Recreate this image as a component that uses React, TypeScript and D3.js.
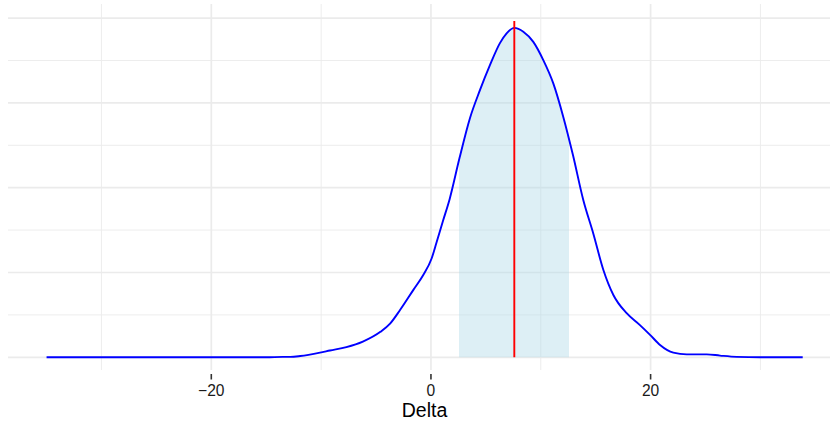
import React from "react";
import * as d3 from "d3";

// Kernel density estimate of Delta (x) and density (y)
const deltaX = [
  -35.0, -30, -25, -20, -15, -13.5, -12.8, -11.9, -10.1, -9.2, -7.7, -6.2, -4.6, -3.7, -2.8,
  -1.6, -0.7, 0.06, 0.5, 1.1, 1.7, 2.6, 3.55, 4.46, 5.37, 6.28, 6.89, 7.59, 8.41, 9.32,
  10.23, 11.14, 12.05, 12.93, 13.87, 14.78, 15.7, 16.61, 17.82, 19.03, 19.95, 20.86,
  22.07, 23.29, 25.11, 26.32, 27.84, 30, 33.85,
];
const densityY = [
  0, 0, 0, 0, 0, 0.0001, 0.0001, 0.0003, 0.0011, 0.0016, 0.0024, 0.0037, 0.006, 0.008, 0.0112,
  0.0159, 0.0194, 0.0233, 0.027, 0.0322, 0.0373, 0.047, 0.0564, 0.063, 0.0689, 0.0741, 0.0764,
  0.0777, 0.0768, 0.0744, 0.0701, 0.0646, 0.0567, 0.0477, 0.0371, 0.0292, 0.0206, 0.0147,
  0.0104, 0.0076, 0.0053, 0.0029, 0.0011, 0.0007, 0.0007, 0.0004, 0.0001, 0, 0,
];

// Shaded interval and the marked point estimate
const intervalLow = 2.55;
const intervalHigh = 12.57;
const estimate = 7.59;
const estimateTop = 0.0793;

const xMajor = [-20, 0, 20];
const xMinor = [-30, -10, 10, 30];
const yMajor = [0, 0.02, 0.04, 0.06, 0.08];
const yMinor = [0.01, 0.03, 0.05, 0.07];
const xTickLabels = ["\u221220", "0", "20"];
const xTitle = "Delta";

const W = 830;
const H = 421;
// panel extends slightly past the right edge of the svg
const panel = { left: 8, right: 841, top: 4, bottom: 370 };

export default function App() {
  const x = d3.scaleLinear().domain([-20, 20]).range([211.3, 650.6]);
  const y = d3.scaleLinear().domain([0, 0.08]).range([357.3, 18.1]);

  const pts: [number, number][] = deltaX.map((d, i) => [d, densityY[i]]);

  const line = d3
    .line<[number, number]>()
    .x((d) => x(d[0]))
    .y((d) => y(d[1]))
    .curve(d3.curveMonotoneX);

  const area = d3
    .area<[number, number]>()
    .x((d) => x(d[0]))
    .y0(y(0))
    .y1((d) => y(d[1]))
    .curve(d3.curveMonotoneX);

  const font = "'Liberation Sans', Arial, Helvetica, sans-serif";

  return (
    <svg
      width={W}
      height={H}
      style={{ position: "absolute", left: 0, top: 0, background: "#fff" }}
    >
      <defs>
        <clipPath id="interval-clip">
          <rect
            x={x(intervalLow)}
            y={panel.top}
            width={x(intervalHigh) - x(intervalLow)}
            height={panel.bottom - panel.top}
          />
        </clipPath>
      </defs>

      {/* minor grid */}
      {yMinor.map((v) => (
        <line
          key={"ym" + v}
          x1={panel.left}
          x2={panel.right}
          y1={y(v)}
          y2={y(v)}
          stroke="#ebebeb"
          strokeWidth={0.9}
        />
      ))}
      {xMinor.map((v) => (
        <line
          key={"xm" + v}
          x1={x(v)}
          x2={x(v)}
          y1={panel.top}
          y2={panel.bottom}
          stroke="#ebebeb"
          strokeWidth={0.9}
        />
      ))}
      {/* major grid */}
      {yMajor.map((v) => (
        <line
          key={"yM" + v}
          x1={panel.left}
          x2={panel.right}
          y1={y(v)}
          y2={y(v)}
          stroke="#ebebeb"
          strokeWidth={1.7}
        />
      ))}
      {xMajor.map((v) => (
        <line
          key={"xM" + v}
          x1={x(v)}
          x2={x(v)}
          y1={panel.top}
          y2={panel.bottom}
          stroke="#ebebeb"
          strokeWidth={1.7}
        />
      ))}

      {/* shaded interval under the density */}
      <path
        d={area(pts) ?? ""}
        fill="lightblue"
        fillOpacity={0.42}
        clipPath="url(#interval-clip)"
      />

      {/* density curve */}
      <path d={line(pts) ?? ""} fill="none" stroke="#0000ff" strokeWidth={1.9} />

      {/* point estimate */}
      <line
        x1={x(estimate)}
        x2={x(estimate)}
        y1={y(0)}
        y2={y(estimateTop)}
        stroke="#ff0000"
        strokeWidth={1.9}
      />

      {/* x axis ticks and labels */}
      {xMajor.map((v, i) => (
        <g key={"t" + v}>
          <line
            x1={x(v)}
            x2={x(v)}
            y1={374}
            y2={379.5}
            stroke="#333"
            strokeWidth={1.6}
          />
          <text
            x={x(v)}
            y={396}
            textAnchor="middle"
            fontFamily={font}
            fontSize={15.6}
            fill="#1a1a1a"
          >
            {xTickLabels[i]}
          </text>
        </g>
      ))}
      <text
        x={(panel.left + panel.right) / 2}
        y={416.5}
        textAnchor="middle"
        fontFamily={font}
        fontSize={19.5}
        fill="#000"
      >
        {xTitle}
      </text>
    </svg>
  );
}
